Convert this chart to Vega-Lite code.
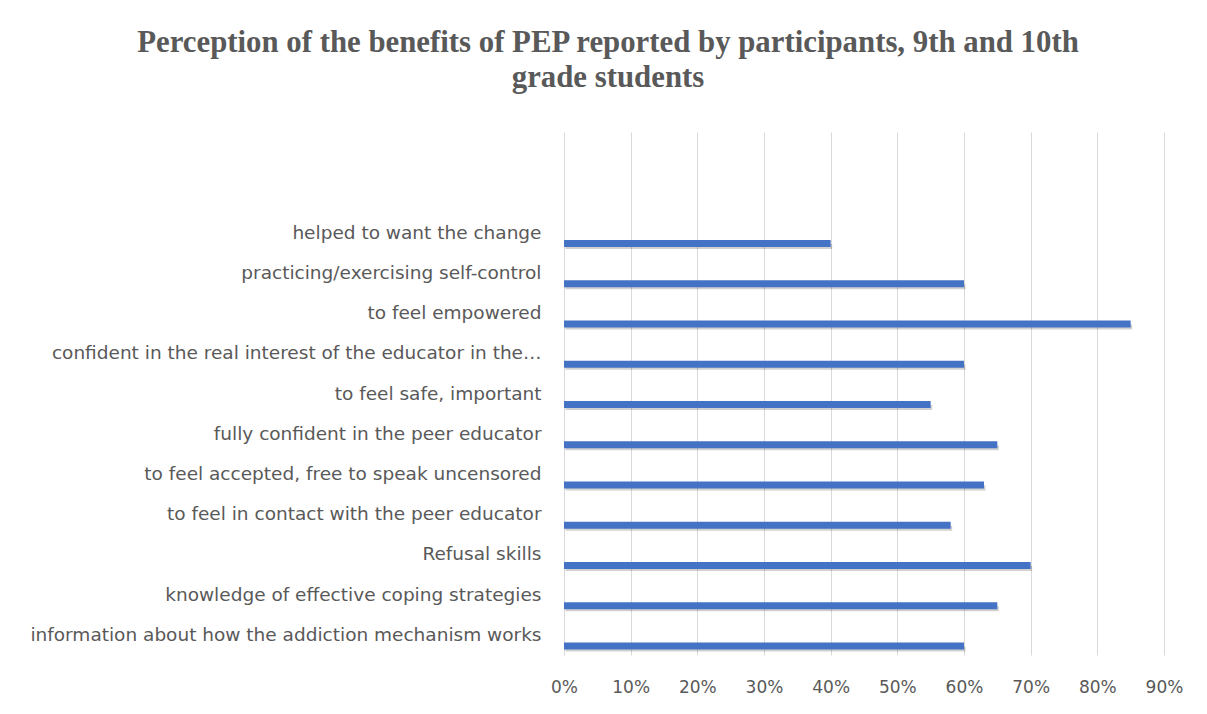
{
  "$schema": "https://vega.github.io/schema/vega-lite/v6.json",
  "width": 600,
  "height": 523,
  "autosize": {"type": "none"},
  "padding": {"left": 564, "top": 132, "right": 43, "bottom": 59},
  "background": "white",
  "title": {
    "text": ["Perception of the benefits of PEP reported by participants, 9th and 10th", "grade students"],
    "font": "Liberation Serif",
    "fontSize": 30.8,
    "fontWeight": "bold",
    "color": "#595959",
    "anchor": "middle",
    "frame": "group",
    "dx": -256,
    "offset": 38,
    "lineHeight": 35
  },
  "data": {
    "values": [
      {"benefit": "helped to want the change ", "share": 0.40},
      {"benefit": "practicing/exercising self-control", "share": 0.60},
      {"benefit": "to feel empowered ", "share": 0.85},
      {"benefit": "confident in the real interest of the educator in the…", "share": 0.60},
      {"benefit": "to feel safe, important ", "share": 0.55},
      {"benefit": "fully confident in the peer educator", "share": 0.65},
      {"benefit": "to feel accepted, free to speak uncensored ", "share": 0.63},
      {"benefit": "to feel in contact with the peer educator ", "share": 0.58},
      {"benefit": "Refusal skills", "share": 0.70},
      {"benefit": "knowledge of effective coping strategies", "share": 0.65},
      {"benefit": "information about how the addiction mechanism works", "share": 0.60}
    ]
  },
  "encoding": {
    "y": {
      "field": "benefit",
      "type": "nominal",
      "sort": null,
      "title": null,
      "scale": {"paddingInner": 0, "paddingOuter": 1, "align": 1},
      "axis": {
        "domain": false,
        "ticks": false,
        "grid": false,
        "labelPadding": 23,
        "labelFont": "DejaVu Sans",
        "labelFontSize": 18.5,
        "labelColor": "#595959",
        "labelLimit": 600
      }
    },
    "x": {
      "field": "share",
      "type": "quantitative",
      "title": null,
      "scale": {"domain": [0, 0.9], "nice": false},
      "axis": {
        "format": ".0%",
        "values": [0, 0.1, 0.2, 0.3, 0.4, 0.5, 0.6, 0.7, 0.8, 0.9],
        "domain": false,
        "ticks": false,
        "grid": true,
        "gridColor": "#d9d9d9",
        "gridWidth": 1,
        "labelFlush": false,
        "labelPadding": 24,
        "labelFont": "DejaVu Sans",
        "labelFontSize": 17,
        "labelColor": "#595959"
      }
    }
  },
  "layer": [
    {"mark": {"type": "bar", "height": 5, "yOffset": 14, "xOffset": 1.5, "color": "#000000", "opacity": 0.18}},
    {"mark": {"type": "bar", "height": 7, "yOffset": 11, "color": "#4472c4"}}
  ],
  "config": {"view": {"stroke": null}}
}
